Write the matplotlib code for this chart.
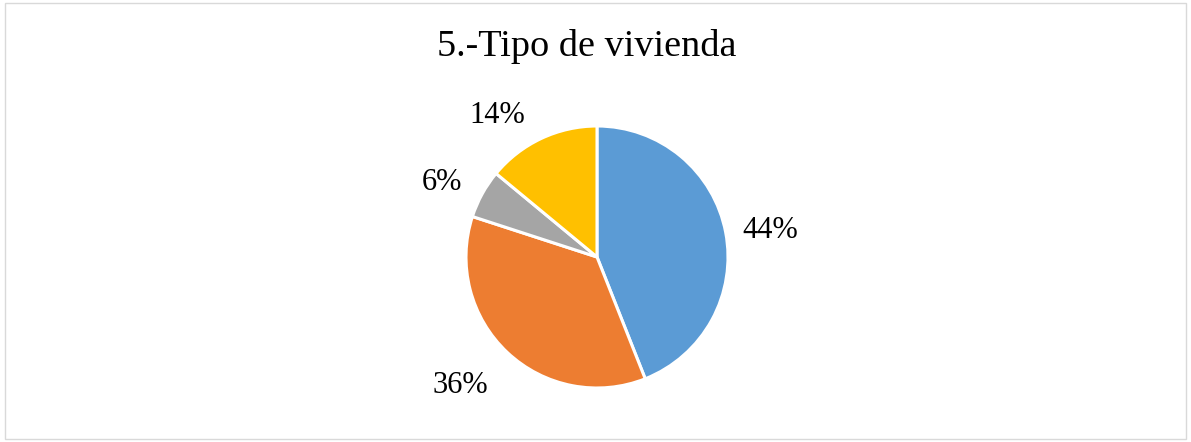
import matplotlib.pyplot as plt
from matplotlib.patches import Rectangle

plt.rcParams['font.family'] = ['Liberation Serif', 'DejaVu Serif']

labels = ['Casa propia', 'Arrendada', 'Prestada', 'Otra']
values = [44, 36, 6, 14]
colors = ['#5B9BD5', '#ED7D31', '#A5A5A5', '#FFC000']

# where Excel put the data labels (pie radius = 1)
label_pos = [(1.32, 0.20), (-1.04, -0.98), (-1.18, 0.57), (-0.76, 1.08)]

fig = plt.figure(figsize=(11.91, 4.42), dpi=100)
fig.patches.append(Rectangle((0.004, 0.007), 0.992, 0.986, transform=fig.transFigure,
                             fill=False, edgecolor='#D9D9D9', linewidth=1))

cx, cy, r = 597, 442 - 257, 131
ax = fig.add_axes([(cx - r) / 1191, (cy - r) / 442, 2 * r / 1191, 2 * r / 442])
wedges, texts, autotexts = ax.pie(values, colors=colors, startangle=90, counterclock=False,
                                  autopct='%1.0f%%',
                                  wedgeprops=dict(edgecolor='white', linewidth=2.2),
                                  textprops=dict(fontsize=22, color='#000000'))
for t, p in zip(autotexts, label_pos):
    t.set_position(p)
ax.set_xlim(-1, 1)
ax.set_ylim(-1, 1)
ax.set_aspect('equal')
ax.axis('off')

fig.text(587 / 1191, 1 - 46 / 442, '5.-Tipo de vivienda', ha='center', va='center', fontsize=27.5)

fig.savefig('out.png', dpi=100)
